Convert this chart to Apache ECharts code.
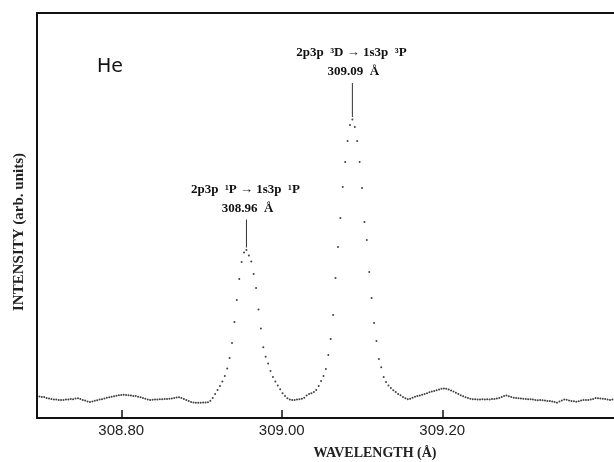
<!DOCTYPE html>
<html lang="en">
<head>
    <meta charset="UTF-8">
    <title>He spectrum</title>
    <style>
        * {
            margin: 0;
        }

        body {
            background: #fff;
        }

        #main {
            width: 614px;
            height: 462px;
        }
    </style>
    <script src="https://cdn.jsdelivr.net/npm/echarts@6/dist/echarts.min.js"></script>
</head>
<body>
<div id="main"></div>
<script>
    // wavelength grid of the scan (Angstrom)
    var lambda0 = 308.695;
    var dLambda = 0.003;
    var xTicks = [308.80, 309.00, 309.20];

    // intensity (arb. units), one value per scan step
    var intensity = [
        22, 21.5, 21, 21, 20, 19.5, 19, 18.5, 18.5, 18,
        18, 18, 18.5, 18.5, 19, 18.7, 19.5, 19.7, 19, 18,
        17.5, 16.5, 16, 16.5, 17.2, 17.8, 18.5, 18.8, 19.5, 20.2,
        20.8, 21.2, 21.8, 22.2, 22.7, 23, 23.2, 23, 22.7, 22.5,
        22, 22, 21.2, 20.8, 20, 19.2, 18.5, 18, 18.2, 18.5,
        18.5, 18.7, 18.7, 19, 19, 19.2, 19.5, 20, 20.5, 20.7,
        20, 19, 18, 17, 16, 15.5, 15.3, 15.3, 15.3, 15.5,
        15.5, 15.7, 17.2, 20, 24, 28, 32, 36.5, 42, 49.5,
        60, 75, 96, 118, 139, 156, 165.5, 168, 162.5, 156.5,
        144, 130, 108.5, 89.5, 70.7, 61.3, 54.5, 47, 41, 36.5,
        32.5, 28.8, 24.8, 22, 19.8, 18.5, 18, 18, 18.5, 18.7,
        19.2, 20.2, 22.5, 24, 24.7, 26, 28, 32, 37, 42,
        49, 63, 79, 103, 140, 171, 200, 231, 256, 277,
        293, 298.5, 291, 277, 256, 230, 196, 178, 146, 120,
        95, 77, 59, 50.7, 41, 36, 32.5, 30, 27.8, 26,
        24, 22.7, 21, 19.7, 18.8, 19.2, 20.2, 21.3, 22, 22.5,
        23.2, 24, 24.8, 25.7, 26.5, 27, 27.8, 28.5, 29.2, 29.5,
        29.3, 28.5, 27.5, 26.5, 25.2, 24, 22.8, 21.7, 20.7, 20,
        19.2, 18.7, 18.7, 18.5, 18.5, 18.7, 18.5, 18.7, 18.5, 19,
        19, 19.5, 20, 21, 22, 22.5, 21.8, 21, 20.2, 20,
        19.7, 19.5, 19.2, 19, 18.7, 18.7, 18.5, 18, 17.8, 18,
        17.8, 17.5, 17, 17, 16.5, 16, 15.3, 16.5, 17.5, 18.5,
        18.2, 17.5, 17, 16.7, 16.3, 16.8, 17.5, 18, 18, 18,
        18.5, 19, 20, 19.8, 19.5, 19.3, 19, 18.5, 18, 18.5,
        18.7
    ];

    // line labels: wavelength window to look for the peak in
    var lines = [
        {from: 308.93, to: 308.99, name: '2p3p  \u00b9P \u2192 1s3p  \u00b9P', wl: '308.96  \u00c5', lead: 28},
        {from: 309.06, to: 309.12, name: '2p3p  \u00b3D \u2192 1s3p  \u00b3P', wl: '309.09  \u00c5', lead: 34}
    ];

    var points = [];
    for (var i = 0; i < intensity.length; i++) {
        points.push([lambda0 + i * dLambda, intensity[i]]);
    }

    var myChart = echarts.init(document.getElementById('main'));

    var option = {
        animation: false,
        grid: {
            left: 37,
            top: 13,
            right: 0,
            bottom: 44
        },
        xAxis: [
            {
                type: 'value',
                min: 308.695,
                max: 309.414,
                axisLine: {lineStyle: {color: '#111', width: 2}},
                axisTick: {
                    inside: true,
                    length: 8,
                    customValues: xTicks,
                    lineStyle: {color: '#111', width: 1.5}
                },
                axisLabel: {
                    customValues: xTicks,
                    formatter: function (v) {
                        return v.toFixed(2);
                    },
                    fontFamily: 'Liberation Sans',
                    fontSize: 15,
                    color: '#222',
                    margin: 5
                },
                splitLine: {show: false}
            },
            {
                // top frame line
                type: 'value',
                position: 'top',
                min: 308.695,
                max: 309.414,
                axisLine: {lineStyle: {color: '#111', width: 2}},
                axisTick: {show: false},
                axisLabel: {show: false},
                splitLine: {show: false}
            }
        ],
        yAxis: {
            type: 'value',
            min: 0,
            max: 405,
            axisLine: {show: true, lineStyle: {color: '#111', width: 2}},
            axisTick: {show: false},
            axisLabel: {show: false},
            splitLine: {show: false}
        },
        series: [
            {
                type: 'scatter',
                data: points,
                symbolSize: 2,
                itemStyle: {color: '#111'},
                silent: true
            }
        ]
    };
    myChart.setOption(option);

    // labels over the two lines
    var serif = 'bold 13px "Liberation Serif", serif';
    var graphics = [
        {
            type: 'text',
            style: {
                text: 'He', x: 110, y: 67,
                textAlign: 'center', textVerticalAlign: 'middle',
                align: 'center', verticalAlign: 'middle',
                font: '19px "DejaVu Sans", sans-serif', fill: '#111'
            }
        },
        {
            type: 'text',
            style: {
                text: 'WAVELENGTH (\u00c5)', x: 375, y: 453,
                textAlign: 'center', textVerticalAlign: 'middle',
                align: 'center', verticalAlign: 'middle',
                font: 'bold 14px "Liberation Serif", serif', fill: '#222'
            }
        },
        {
            type: 'text',
            rotation: Math.PI / 2,
            x: 19,
            y: 232,
            style: {
                text: 'INTENSITY (arb. units)', x: 0, y: 0,
                textAlign: 'center', textVerticalAlign: 'middle',
                align: 'center', verticalAlign: 'middle',
                font: 'bold 15px "Liberation Serif", serif', fill: '#222'
            }
        }
    ];

    lines.forEach(function (ln) {
        var best = -1;
        for (var i = 0; i < points.length; i++) {
            if (points[i][0] >= ln.from && points[i][0] <= ln.to) {
                if (best < 0 || points[i][1] > points[best][1]) best = i;
            }
        }
        var p = myChart.convertToPixel({xAxisIndex: 0, yAxisIndex: 0}, points[best]);
        var top = p[1] - 2.5 - ln.lead;
        graphics.push({
            type: 'line',
            shape: {x1: p[0], y1: p[1] - 2.5, x2: p[0], y2: top},
            style: {stroke: '#333', lineWidth: 1}
        });
        graphics.push({
            type: 'text',
            style: {
                text: ln.wl, x: p[0] + 1, y: top - 11,
                textAlign: 'center', textVerticalAlign: 'middle',
                align: 'center', verticalAlign: 'middle',
                font: serif, fill: '#111'
            }
        });
        graphics.push({
            type: 'text',
            style: {
                text: ln.name, x: p[0] - 1, y: top - 30,
                textAlign: 'center', textVerticalAlign: 'middle',
                align: 'center', verticalAlign: 'middle',
                font: serif, fill: '#111'
            }
        });
    });

    myChart.setOption({graphic: graphics});
</script>
</body>
</html>
